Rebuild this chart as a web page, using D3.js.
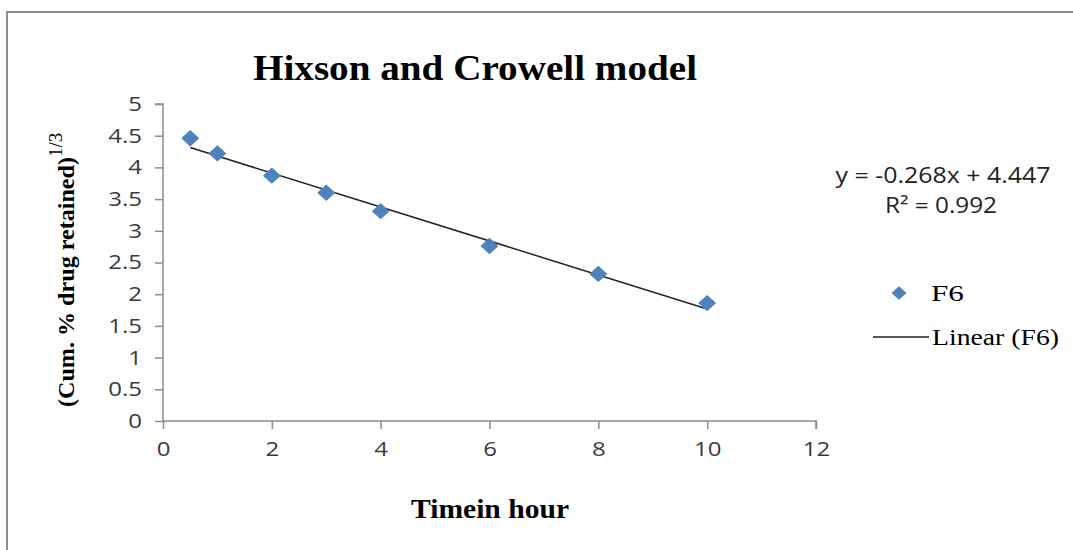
<!DOCTYPE html>
<html>
<head>
<meta charset="utf-8">
<script src="https://cdn.jsdelivr.net/npm/d3@7"></script>
<style>
  body { margin: 0; background: #fff; }
  svg { display: block; }
</style>
</head>
<body>
<div id="chart"></div>
<script>
  // Data
  const timeHours = [0.5, 1, 2, 3, 4, 6, 8, 10];
  const cubeRootRetained = [4.46, 4.22, 3.87, 3.60, 3.31, 2.76, 2.32, 1.86];
  const xTicks = [0, 2, 4, 6, 8, 10, 12];
  const yTicks = [0, 0.5, 1, 1.5, 2, 2.5, 3, 3.5, 4, 4.5, 5];
  const slope = -0.268;
  const intercept = 4.447;

  const width = 1073;
  const height = 550;
  const margin = { left: 163, right: 257, top: 104, bottom: 129 };
  const serif = "'Liberation Serif', 'DejaVu Serif', serif";
  const sans = "'Open Sans', 'DejaVu Sans', sans-serif";

  const svg = d3.select("#chart")
      .append("svg")
      .attr("width", width)
      .attr("height", height);

  // Chart frame
  svg.append("path")
      .attr("d", `M7,${height} V12 H${width}`)
      .attr("fill", "none")
      .attr("stroke", "#8c8c8c")
      .attr("stroke-width", 2);

  const x = d3.scaleLinear().domain([0, 12]).range([margin.left, width - margin.right]);
  const y = d3.scaleLinear().domain([0, 5]).range([height - margin.bottom, margin.top]);

  // Axes
  const xAxis = svg.append("g")
      .attr("transform", `translate(0,${y(0)})`)
      .call(d3.axisBottom(x).tickValues(xTicks).tickSize(8).tickPadding(13).tickFormat(d3.format("d")));
  const yAxis = svg.append("g")
      .attr("transform", `translate(${x(0)},0)`)
      .call(d3.axisLeft(y).tickValues(yTicks).tickSize(8).tickPadding(13).tickFormat(d => d));

  [xAxis, yAxis].forEach(g => {
      g.select(".domain").attr("stroke", "#8c8c8c").attr("stroke-width", 1.5);
      g.selectAll(".tick line").attr("stroke", "#8c8c8c").attr("stroke-width", 1.5);
      g.selectAll(".tick text")
          .attr("fill", "#3a3a3a")
          .attr("font-family", sans)
          .attr("font-size", "20px")
          .attr("textLength", function() { return this.getComputedTextLength() * 1.2; })
          .attr("lengthAdjust", "spacingAndGlyphs");
  });
  yAxis.select(".domain").attr("d", `M-8,${y(5)}H0V${y(0)}`);
  xAxis.select(".domain").attr("d", `M${x(0)},0H${x(12)}V8`);

  // Trend line
  const lineData = [d3.min(timeHours), d3.max(timeHours)];
  svg.append("line")
      .attr("x1", x(lineData[0]))
      .attr("y1", y(slope * lineData[0] + intercept))
      .attr("x2", x(lineData[1]))
      .attr("y2", y(slope * lineData[1] + intercept))
      .attr("stroke", "#222")
      .attr("stroke-width", 1.5);

  // Points
  const diamond = d3.symbol().type(d3.symbolDiamond2).size(170);
  svg.append("g")
      .selectAll("path")
      .data(timeHours)
      .enter()
      .append("path")
      .attr("d", diamond)
      .attr("transform", (d, i) => `translate(${x(d)},${y(cubeRootRetained[i])}) scale(1.1,1)`)
      .attr("fill", "#4f81bd");

  // Title
  svg.append("text")
      .attr("x", 475)
      .attr("y", 80)
      .attr("text-anchor", "middle")
      .attr("font-family", serif)
      .attr("font-weight", "bold")
      .attr("font-size", "35px")
      .attr("textLength", 444)
      .attr("lengthAdjust", "spacingAndGlyphs")
      .text("Hixson and Crowell model");

  // Axis titles
  svg.append("text")
      .attr("x", 490)
      .attr("y", 518)
      .attr("text-anchor", "middle")
      .attr("font-family", serif)
      .attr("font-weight", "bold")
      .attr("font-size", "27px")
      .attr("textLength", 158)
      .attr("lengthAdjust", "spacingAndGlyphs")
      .text("Timein hour");

  const yTitle = svg.append("text")
      .attr("transform", "translate(74,407) rotate(-90)")
      .attr("font-family", serif)
      .attr("font-weight", "bold")
      .attr("font-size", "23px");
  yTitle.append("tspan")
      .attr("textLength", 250)
      .attr("lengthAdjust", "spacingAndGlyphs")
      .text("(Cum. % drug retained)");
  yTitle.append("tspan")
      .attr("dy", -12)
      .attr("font-size", "19px")
      .attr("font-weight", "normal")
      .text("1/3");

  // Equation
  const eq = svg.append("g")
      .attr("font-family", sans)
      .attr("font-size", "21px")
      .attr("fill", "#222")
      .attr("text-anchor", "middle");
  eq.append("text").attr("x", 943).attr("y", 183)
      .attr("textLength", 215).attr("lengthAdjust", "spacingAndGlyphs")
      .text(`y = ${slope}x + ${intercept}`);
  eq.append("text").attr("x", 941).attr("y", 213)
      .attr("textLength", 112).attr("lengthAdjust", "spacingAndGlyphs")
      .text("R² = 0.992");

  // Legend
  svg.append("path")
      .attr("d", d3.symbol().type(d3.symbolDiamond2).size(120))
      .attr("transform", "translate(899,293) scale(1.1,1)")
      .attr("fill", "#4f81bd");
  svg.append("text")
      .attr("x", 931).attr("y", 301)
      .attr("font-family", serif)
      .attr("font-size", "23px")
      .attr("textLength", 33).attr("lengthAdjust", "spacingAndGlyphs")
      .text("F6");
  svg.append("line")
      .attr("x1", 873).attr("x2", 929)
      .attr("y1", 337).attr("y2", 337)
      .attr("stroke", "#222")
      .attr("stroke-width", 1.5);
  svg.append("text")
      .attr("x", 932).attr("y", 345)
      .attr("font-family", serif)
      .attr("font-size", "23px")
      .attr("textLength", 127).attr("lengthAdjust", "spacingAndGlyphs")
      .text("Linear (F6)");
</script>
</body>
</html>
